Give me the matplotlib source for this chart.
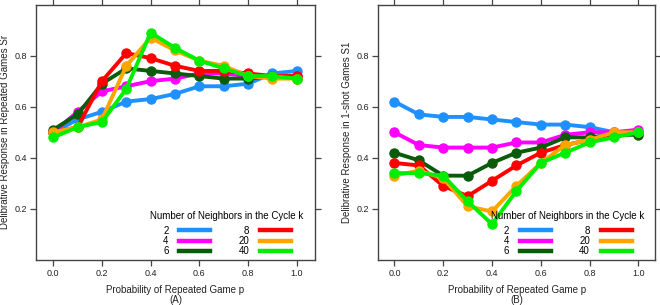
import matplotlib
matplotlib.use("Agg")
import matplotlib.pyplot as plt
from matplotlib.lines import Line2D

plt.rcParams['font.family'] = ['Liberation Sans', 'DejaVu Sans']

p = [0.0, 0.1, 0.2, 0.3, 0.4, 0.5, 0.6, 0.7, 0.8, 0.9, 1.0]
k_labels = ["2", "4", "6", "8", "20", "40"]
colors = ["#1E90FF", "#FF00FF", "#0A5C0A", "#FF0000", "#FFA500", "#00EE00"]

sr_k2 = [0.50, 0.55, 0.58, 0.62, 0.63, 0.65, 0.68, 0.68, 0.69, 0.73, 0.74]
sr_k4 = [0.50, 0.58, 0.66, 0.68, 0.70, 0.71, 0.73, 0.73, 0.72, 0.72, 0.72]
sr_k6 = [0.51, 0.57, 0.69, 0.75, 0.74, 0.73, 0.72, 0.71, 0.71, 0.72, 0.71]
sr_k8 = [0.50, 0.52, 0.70, 0.81, 0.79, 0.76, 0.74, 0.74, 0.73, 0.72, 0.72]
sr_k20 = [0.50, 0.52, 0.55, 0.76, 0.87, 0.82, 0.78, 0.76, 0.72, 0.71, 0.71]
sr_k40 = [0.48, 0.52, 0.54, 0.67, 0.89, 0.83, 0.78, 0.75, 0.72, 0.72, 0.71]

s1_k2 = [0.62, 0.57, 0.56, 0.56, 0.55, 0.54, 0.53, 0.53, 0.52, 0.50, 0.50]
s1_k4 = [0.50, 0.45, 0.44, 0.44, 0.44, 0.46, 0.46, 0.49, 0.50, 0.50, 0.51]
s1_k6 = [0.42, 0.39, 0.33, 0.33, 0.38, 0.42, 0.44, 0.48, 0.48, 0.49, 0.49]
s1_k8 = [0.38, 0.37, 0.29, 0.25, 0.31, 0.37, 0.42, 0.45, 0.47, 0.49, 0.50]
s1_k20 = [0.33, 0.35, 0.32, 0.21, 0.19, 0.29, 0.38, 0.45, 0.47, 0.50, 0.50]
s1_k40 = [0.34, 0.34, 0.33, 0.23, 0.14, 0.27, 0.38, 0.42, 0.46, 0.48, 0.50]

sr = [sr_k2, sr_k4, sr_k6, sr_k8, sr_k20, sr_k40]
s1 = [s1_k2, s1_k4, s1_k6, s1_k8, s1_k20, s1_k40]

W, H = 660, 305
fig = plt.figure(figsize=(6.6, 3.05), dpi=100)

def make_ax(left_px, right_px, xlim):
    ax = fig.add_axes([left_px / W, 1 - 260 / H, (right_px - left_px) / W, (260 - 4.5) / H])
    ax.set_xlim(*xlim)
    ax.set_ylim(0, 1.0)
    return ax

axA = make_ax(36, 315, (-0.071, 1.075))
axB = make_ax(378.3, 655, (-0.066, 1.068))

FS = 7
frame_col = "#444444"
for ax, data, ylab, panel in [
    (axA, sr, "Delibrative Response in Repeated Games Sr", "(A)"),
    (axB, s1, "Delibrative Response in 1-shot Games S1", "(B)"),
]:
    for vals, c in zip(data, colors):
        ax.plot(p, vals, color=c, lw=2.8, marker='o', ms=6.5, mec=c, mfc=c,
                solid_capstyle='round', zorder=3)
    ax.set_xticks([0.0, 0.2, 0.4, 0.6, 0.8, 1.0])
    ax.set_xticklabels(["0.0", "0.2", "0.4", "0.6", "0.8", "1.0"])
    ax.set_yticks([0.2, 0.4, 0.6, 0.8])
    ax.set_yticklabels(["0.2", "0.4", "0.6", "0.8"])
    ax.tick_params(direction='out', length=4, width=0.9, color=frame_col,
                   labelsize=6.5, top=True, right=True, pad=2.5,
                   labelcolor="#222222")
    for s in ax.spines.values():
        s.set_color(frame_col)
        s.set_linewidth(1.0)
    ax.set_xlabel("Probability of Repeated Game p\n" + panel, fontsize=FS,
                  labelpad=5, linespacing=1.05, color="#222222")
    ax.set_ylabel(ylab, fontsize=FS, labelpad=3, color="#222222")
    handles = [Line2D([], [], color=c, lw=3.2) for c in colors]
    leg = ax.legend(handles, k_labels, ncol=2, loc='upper center',
                    bbox_to_anchor=(0.685, 0.19), frameon=False,
                    markerfirst=False, fontsize=7.0,
                    title="Number of Neighbors in the Cycle k",
                    title_fontsize=7.0, handlelength=3.2,
                    handletextpad=1.1, columnspacing=2.9, labelspacing=0.04,
                    borderpad=0, borderaxespad=0)
    leg._legend_box.sep = 3
    for t in leg.get_texts():
        t.set_ha('right')
    leg.set_zorder(5)

fig.savefig("out.png", dpi=100)
